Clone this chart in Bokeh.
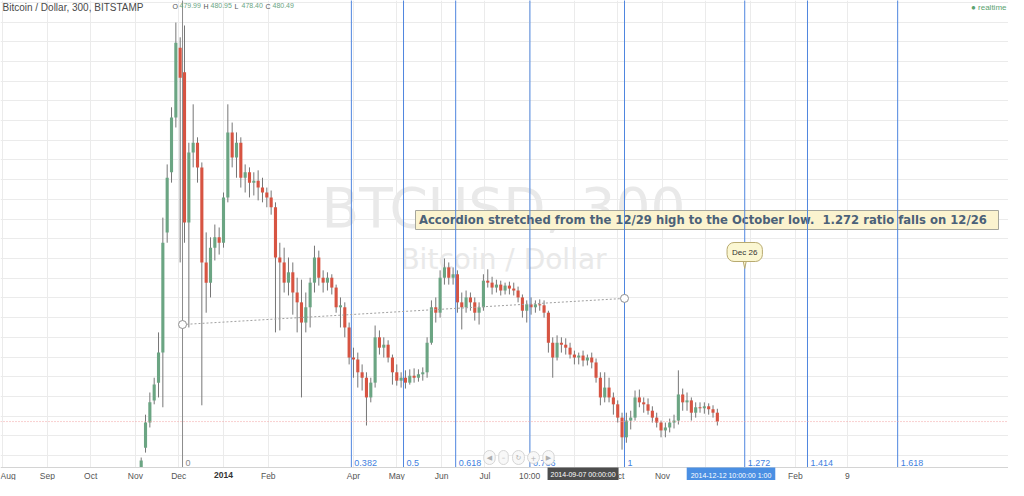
import pandas as pd
from bokeh.plotting import figure
from bokeh.models import ColumnDataSource, Range1d, FixedTicker, SingleIntervalTicker, Label, Span
from bokeh.embed import file_html
from bokeh.resources import INLINE
from bokeh.core.properties import value

# ---------------- data ----------------
candle_start = "2013-11-05"
candle_days = 3
open_ = [250, 296, 347, 392, 428, 489, 733, 855, 966, 1108, 1058, 753, 895, 915, 865, 672, 631, 702, 723, 712,
         804, 936, 885, 915, 844, 855, 834, 838, 824, 814, 804, 784, 682, 672, 631, 652, 611, 591, 550, 581,
         631, 682, 641, 631, 641, 621, 581, 581, 540, 479, 475, 449, 438, 398, 428, 520, 499, 505, 479, 449,
         432, 438, 428, 442, 438, 445, 449, 509, 581, 570, 641, 662, 641, 648, 591, 581, 601, 591, 570, 581,
         635, 631, 621, 627, 615, 625, 619, 615, 601, 574, 587, 581, 587, 585, 570, 509, 479, 509, 505, 499,
         485, 479, 483, 473, 479, 469, 438, 398, 418, 398, 384, 357, 317, 351, 357, 398, 388, 384, 371, 357,
         347, 331, 337, 347, 351, 404, 388, 392, 367, 378, 376, 380, 374, 367]
high = [276, 363, 408, 438, 530, 763, 871, 987, 1159, 1129, 1153, 915, 993, 926, 875, 733, 723, 749, 743, 814,
        993, 956, 936, 926, 871, 865, 855, 859, 844, 824, 818, 794, 712, 702, 682, 672, 641, 637, 611, 641,
        706, 696, 656, 652, 648, 627, 601, 591, 550, 499, 489, 465, 449, 438, 544, 534, 520, 514, 485, 465,
        449, 453, 455, 457, 455, 459, 520, 595, 601, 656, 680, 672, 662, 656, 611, 615, 611, 601, 591, 648,
        658, 643, 637, 635, 631, 633, 631, 623, 607, 595, 601, 595, 597, 595, 574, 520, 524, 520, 518, 509,
        493, 489, 493, 485, 489, 477, 449, 449, 438, 408, 392, 367, 367, 371, 412, 414, 398, 396, 380, 367,
        351, 347, 355, 363, 453, 416, 408, 398, 388, 388, 388, 386, 382, 375]
low = [246, 286, 337, 384, 398, 378, 712, 834, 946, 672, 712, 540, 865, 834, 382, 570, 601, 676, 688, 702,
       794, 865, 844, 824, 814, 804, 808, 798, 794, 784, 769, 530, 534, 611, 605, 566, 530, 398, 530, 540,
       611, 625, 611, 615, 607, 570, 540, 520, 465, 438, 418, 412, 341, 388, 418, 485, 479, 469, 424, 422,
       418, 416, 424, 428, 430, 432, 438, 505, 550, 560, 627, 627, 627, 570, 536, 570, 574, 554, 546, 574,
       621, 607, 611, 605, 607, 607, 605, 591, 560, 550, 566, 570, 574, 560, 489, 438, 473, 489, 485, 477,
       465, 465, 461, 463, 457, 428, 382, 388, 388, 363, 347, 292, 306, 333, 351, 378, 367, 363, 347, 337,
       317, 317, 327, 335, 343, 371, 371, 351, 357, 367, 365, 363, 357, 341]
close = [270, 347, 388, 424, 489, 712, 844, 966, 1118, 1047, 753, 895, 915, 865, 672, 631, 702, 723, 712, 804,
         936, 885, 915, 844, 855, 834, 838, 824, 814, 804, 784, 682, 672, 631, 652, 611, 591, 550, 581, 631,
         682, 641, 631, 641, 621, 581, 585, 540, 479, 475, 449, 438, 398, 428, 520, 499, 505, 479, 449, 432,
         438, 428, 442, 438, 445, 449, 509, 581, 570, 641, 662, 641, 648, 591, 581, 601, 591, 570, 581, 635,
         631, 621, 627, 615, 625, 619, 615, 601, 574, 587, 581, 587, 585, 570, 509, 479, 509, 505, 499, 485,
         479, 483, 473, 479, 469, 438, 398, 418, 398, 384, 357, 317, 351, 357, 398, 388, 384, 371, 357, 347,
         331, 337, 347, 351, 404, 388, 392, 367, 378, 376, 380, 374, 367, 349]

fib_start = "2013-12-03 15:00"
fib_end = "2014-10-05 17:00"
fib_levels = [0, 0.382, 0.5, 0.618, 0.786, 1, 1.272, 1.414, 1.618]
fib_labels = ["0", "0.382", "0.5", "0.618", "0.786", "1", "1.272", "1.414", "1.618"]
trend_prices = [546, 599]

tick_dates = ["2013-08-01", "2013-09-01", "2013-10-01", "2013-11-01", "2013-12-01", "2014-01-01",
              "2014-02-01", "2014-04-01", "2014-05-01", "2014-06-01", "2014-07-01", "2014-08-01",
              "2014-09-01", "2014-10-01", "2014-11-01", "2014-12-01", "2015-01-01", "2015-02-01",
              "2015-03-09"]
tick_labels = ["Aug", "Sep", "Oct", "Nov", "Dec", "2014", "Feb", "Apr", "May", "Jun", "Jul", "10:00",
               "Sep", "Oct", "Nov", "Dec", "2015", "Feb", "9"]
bold_tick = "2014"

note_text = "Accordion stretched from the 12/29 high to the October low.\u00a0 1.272 ratio falls on 12/26"
marker_text = "Dec 26"
marker_level = 1.272

# ---------------- layout helpers (window pixel -> data) ----------------
DAY0 = pd.Timestamp("2014-01-01")
X0, PX_DAY = 231.0, 1.444
P_TOP, P_PX = 1220.0, 2.03


def ms(ts):
    return pd.Timestamp(ts).value / 1e6


def sx(px):
    return ms(DAY0 + pd.Timedelta(days=(px - X0) / PX_DAY))


def sy(py):
    return P_TOP - P_PX * py


FONT = "Liberation Sans"
AXIS_Y = sy(475)

p = figure(x_axis_type="datetime", y_axis_location=None,
           x_range=Range1d(sx(8), sx(1016)), y_range=Range1d(sy(488), sy(8)),
           frame_width=1008, frame_height=480, min_border=0,
           toolbar_location=None, output_backend="svg")
p.outline_line_color = None
p.background_fill_color = "white"
p.border_fill_color = "white"

tick_ms = [int(ms(d)) for d in tick_dates]
p.xaxis.fixed_location = AXIS_Y
p.xaxis.ticker = FixedTicker(ticks=tick_ms)
p.xaxis.major_label_overrides = {t: ("" if l == bold_tick else l) for t, l in zip(tick_ms, tick_labels)}
p.xaxis.axis_line_color = "#d4d4d4"
p.xaxis.major_tick_line_color = None
p.xaxis.minor_tick_line_color = None
p.xaxis.major_tick_out = 0
p.xaxis.major_tick_in = 0
p.xaxis.major_label_standoff = 3
p.xaxis.major_label_text_font = FONT
p.xaxis.major_label_text_font_size = "8.5px"
p.xaxis.major_label_text_color = "#555555"
p.xgrid.ticker = FixedTicker(ticks=tick_ms)
p.xgrid.grid_line_color = "#ebebeb"
p.ygrid.ticker = SingleIntervalTicker(interval=40)
p.ygrid.grid_line_color = "#ebebeb"

# watermark
for txt, yy, size in [("BTCUSD, 300", 215, "55px"), ("Bitcoin / Dollar", 267, "28px")]:
    p.add_layout(Label(x=sx(511), y=sy(yy), text=txt, text_align="center", text_baseline="middle",
                       text_font="DejaVu Sans", text_font_size=size, text_color="#e9e9e9", level="underlay"))

# candles
dates = pd.date_range(candle_start, periods=len(close), freq=f"{candle_days}D")
colors = ["#6ba583" if c >= o else "#d75442" for o, c in zip(open_, close)]
src = ColumnDataSource(dict(date=dates, o=open_, h=high, l=low, c=close,
                            top=[max(o, c) for o, c in zip(open_, close)],
                            bot=[min(o, c) for o, c in zip(open_, close)], color=colors))
p.segment(x0="date", y0="h", x1="date", y1="l", source=src, line_color="#767676", line_width=1)
p.vbar(x="date", width=candle_days * 0.72 * 86400000, top="top", bottom="bot", source=src,
       fill_color="color", line_color=None)

# note box
p.quad(left=[sx(423)], right=[sx(1006)], bottom=[sy(237)], top=[sy(218)],
       fill_color="#fbf3cf", line_color="#a6a69c")
p.text(x=[sx(426.5)], y=[sy(227.8)], text=[note_text], text_baseline="middle", text_align="left",
       text_font=value("DejaVu Sans"), text_font_style="bold", text_font_size="11.6px", text_color="#4b6178")

# blank time-axis strip
p.quad(left=[sx(8)], right=[sx(1016)], bottom=[sy(490)], top=[AXIS_Y], fill_color="white", line_color=None)

# fib time zones
t0, t1 = pd.Timestamp(fib_start), pd.Timestamp(fib_end)
fib_dates = [t0 + (t1 - t0) * lv for lv in fib_levels]
fsrc = ColumnDataSource(dict(x=fib_dates, y0=[AXIS_Y] * len(fib_dates), y1=[sy(0)] * len(fib_dates),
                             ly=[sy(470)] * len(fib_dates), t=fib_labels,
                             c=["#8c8c8c" if lv == 0 else "#4f86df" for lv in fib_levels],
                             tc=["#888888" if lv == 0 else "#3f7fe0" for lv in fib_levels]))
p.segment(x0="x", y0="y0", x1="x", y1="y1", source=fsrc, line_color="c", line_width=1)
p.text(x="x", y="ly", text="t", source=fsrc, x_offset=3, text_baseline="middle", text_align="left",
       text_font=value(FONT), text_font_size="9px", text_color="tc")

# last price line
p.add_layout(Span(location=close[-1], dimension="width", line_color="#f2a0a0", line_dash="1 2", line_width=1))

# trend line with anchors
tsrc = ColumnDataSource(dict(x=[t0, t1], y=trend_prices))
p.line(x="x", y="y", source=tsrc, line_color="#a0a0a0", line_dash="2 2", line_width=1)
p.scatter(x="x", y="y", source=tsrc, marker="circle", size=8, fill_color="white", line_color="#909090")

# Dec 26 callout
md = t0 + (t1 - t0) * marker_level
dd = pd.Timedelta(days=1.6)
p.patch(x=[md - dd, md + dd, md], y=[sy(265), sy(265), sy(276)], fill_color="#fbf7d2", line_color="#b8aa70")
p.add_layout(Label(x=ms(md), y=sy(259.5), text=marker_text, text_align="center", text_baseline="middle",
                   text_font=FONT, text_font_size="8px", text_color="#333333",
                   background_fill_color="#fbf7d2", border_line_color="#b8aa70", border_radius=7, padding=5))

# header
p.add_layout(Label(x=sx(10), y=sy(9), text="Bitcoin / Dollar, 300, BITSTAMP", text_baseline="top",
                   text_font=FONT, text_font_size="10px", text_color="#4a4a4a"))
hx = 180
for lab, val in [("O", "479.99"), ("H", "480.95"), ("L", "478.40"), ("C", "480.49")]:
    p.add_layout(Label(x=sx(hx), y=sy(10.5), text=lab, text_baseline="top", text_font=FONT,
                       text_font_size="7px", text_color="#555555"))
    p.add_layout(Label(x=sx(hx + 7), y=sy(10.5), text=val, text_baseline="top", text_font=FONT,
                       text_font_size="7px", text_color="#6ba583"))
    hx += 31
p.add_layout(Label(x=sx(1014), y=sy(10), text="\u25cf realtime", text_align="right", text_baseline="top",
                   text_font=FONT, text_font_size="8px", text_color="#5aa36f"))

# navigation buttons
for px, g in [(497, "\u25c0"), (511, "\u2013"), (526, "\u21bb"), (541, "+"), (556, "\u25b6")]:
    p.add_layout(Label(x=sx(px), y=sy(465), text=g, text_align="center", text_baseline="middle",
                       text_font="DejaVu Sans", text_font_size="7px", text_color="#b0b0b0",
                       background_fill_color="#f8f8f8", border_line_color="#d6d6d6",
                       border_radius=6, padding=3))

# bold year label on the time axis
p.add_layout(Label(x=ms("2014-01-01"), y=sy(482.5), text=bold_tick, text_align="center",
                   text_baseline="middle", text_font=FONT, text_font_style="bold",
                   text_font_size="8.5px", text_color="#333333"))

# crosshair time labels on the axis
p.add_layout(Label(x=ms("2014-09-07"), y=sy(481.5), text="2014-09-07 00:00:00", text_align="center",
                   text_baseline="middle", text_font=FONT, text_font_size="7px", text_color="white",
                   background_fill_color="#4d4d4d", padding=3))
p.add_layout(Label(x=sx(738.5), y=sy(482.5), text="2014-12-12 10:00:00 1:00", text_align="center",
                   text_baseline="middle", text_font=FONT, text_font_size="7px", text_color="white",
                   background_fill_color="#4a8fe3", padding=4))

open("out.html", "w").write(file_html(p, INLINE))
